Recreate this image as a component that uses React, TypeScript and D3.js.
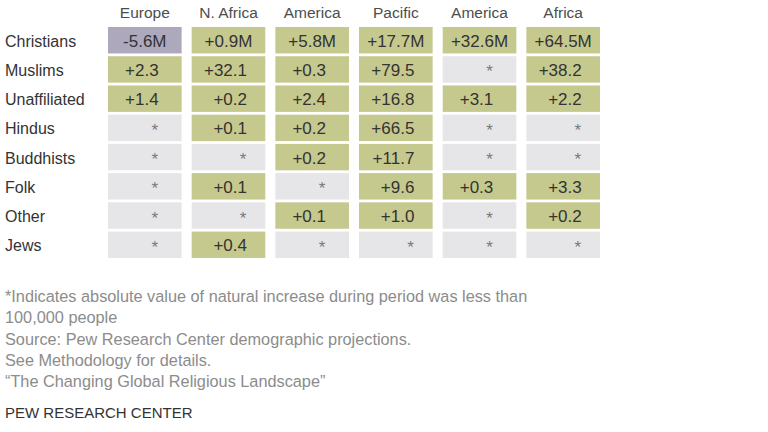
import React from "react";
import * as d3 from "d3";

// ---------- data ----------
const regionTop = ["", "Middle East-", "North", "Asia-", "Latin", "Sub-Saharan"];
const regionBottom = ["Europe", "N. Africa", "America", "Pacific", "America", "Africa"];
const religions = ["Christians", "Muslims", "Unaffiliated", "Hindus", "Buddhists", "Folk", "Other", "Jews"];

// natural increase, millions (null = absolute value < 100,000)
const europe = [-5.6, 2.3, 1.4, null, null, null, null, null];
const mena = [0.9, 32.1, 0.2, 0.1, null, 0.1, null, 0.4];
const northAmerica = [5.8, 0.3, 2.4, 0.2, 0.2, null, 0.1, null];
const asiaPacific = [17.7, 79.5, 16.8, 66.5, 11.7, 9.6, 1.0, null];
const latinAmerica = [32.6, null, 3.1, null, null, 0.3, null, null];
const subSaharan = [64.5, 38.2, 2.2, null, null, 3.3, 0.2, null];
const columns: (number | null)[][] = [europe, mena, northAmerica, asiaPacific, latinAmerica, subSaharan];

const notes = [
  "*Indicates absolute value of natural increase during period was less than",
  "100,000 people",
  "Source: Pew Research Center demographic projections.",
  "See Methodology for details.",
  "\u201cThe Changing Global Religious Landscape\u201d",
];
const credit = "PEW RESEARCH CENTER";

// ---------- style ----------
const W = 768;
const H = 432;
const FONT = "'Liberation Sans', Arial, Helvetica, sans-serif";
const VALUE_SIZE = 17;
const GREEN = "#c6c98d";
const PURPLE = "#aea8bd";
const GRAY = "#e6e6e8";

let ctx: CanvasRenderingContext2D | null = null;
function textWidth(t: string, size: number): number {
  if (!ctx) {
    const c = document.createElement("canvas");
    ctx = c.getContext("2d");
  }
  if (!ctx) return t.length * size * 0.55;
  ctx.font = `${size}px ${FONT}`;
  return ctx.measureText(t).width;
}

function fmt(v: number, row: number): string {
  const s = (v < 0 ? "-" : "+") + Math.abs(v).toFixed(1);
  return row === 0 ? s + "M" : s;
}

export default function App() {
  const x = d3.scaleBand<number>().domain(d3.range(columns.length)).range([108, 600]).paddingInner(0.12);
  const y = d3.scaleBand<string>().domain(religions).range([27, 258]).paddingInner(0.095);
  const bw = x.bandwidth();
  const bh = y.bandwidth();

  return (
    <svg
      width={W}
      height={H}
      viewBox={`0 0 ${W} ${H}`}
      style={{ position: "absolute", left: 0, top: 0, background: "#fff" }}
      fontFamily={FONT}
    >
      <rect x={0} y={0} width={W} height={H} fill="#fff" />
      {/* column headers */}
      {columns.map((_, ci) => {
        const cx = (x(ci) as number) + bw / 2;
        return (
          <g key={"h" + ci} fill="#4d4d4d" fontSize={15.5} textAnchor="middle">
            {regionTop[ci] && (
              <text x={cx} y={-2.5}>
                {regionTop[ci]}
              </text>
            )}
            <text x={cx} y={18}>
              {regionBottom[ci]}
            </text>
          </g>
        );
      })}
      {/* row labels */}
      {religions.map((r) => (
        <text key={r} x={5} y={(y(r) as number) + bh / 2 + 6.5} fontSize={16} fill="#333">
          {r}
        </text>
      ))}
      {/* cells */}
      {columns.map((col, ci) => {
        const x0 = x(ci) as number;
        const cx = x0 + bw / 2;
        const widest = d3.max(
          col.map((v, ri) => (v !== null && ri > 0 ? textWidth(fmt(v, ri), VALUE_SIZE) : 0))
        ) as number;
        const xr = cx + widest / 2 - 3;
        return (
          <g key={"c" + ci}>
            {col.map((v, ri) => {
              const y0 = y(religions[ri]) as number;
              const fill = v === null ? GRAY : v < 0 ? PURPLE : GREEN;
              const ty = y0 + bh / 2 + 6.5;
              return (
                <g key={ri}>
                  <rect x={x0} y={y0} width={bw} height={bh} fill={fill} />
                  {v === null ? (
                    <text x={xr - 0.5} y={ty + 1.5} textAnchor="end" fontSize={17} fill="#7a7a7a">
                      *
                    </text>
                  ) : ri === 0 ? (
                    <text x={cx} y={ty} textAnchor="middle" fontSize={VALUE_SIZE} fill="#333">
                      {fmt(v, ri)}
                    </text>
                  ) : (
                    <text x={xr} y={ty} textAnchor="end" fontSize={VALUE_SIZE} fill="#333">
                      {fmt(v, ri)}
                    </text>
                  )}
                </g>
              );
            })}
          </g>
        );
      })}
      {/* notes */}
      {notes.map((n, i) => (
        <text key={"n" + i} x={5} y={302 + i * 21.3} fontSize={16.3} fill="#8c8c8c">
          {n}
        </text>
      ))}
      <text x={5} y={418} fontSize={15} fill="#333">
        {credit}
      </text>
    </svg>
  );
}
